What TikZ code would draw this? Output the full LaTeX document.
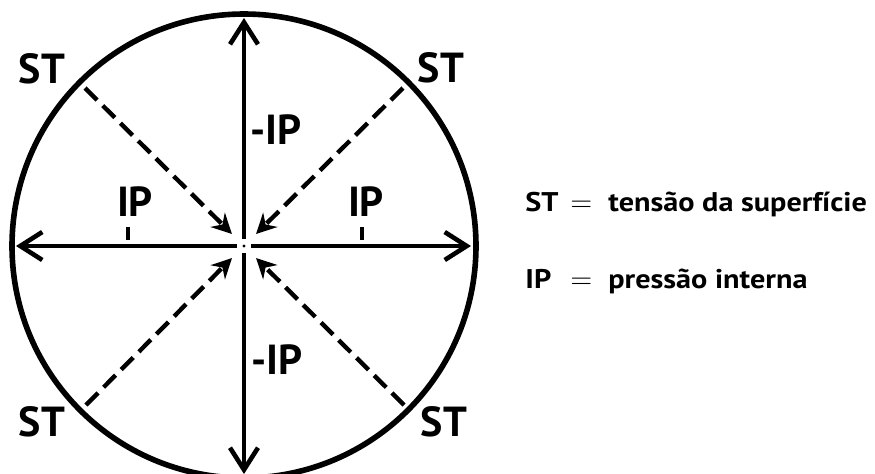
\documentclass[tikz,border=0pt]{standalone}
\usepackage{fontspec}
\setmainfont{PT Sans}
\newfontfamily\legfont[FakeStretch=1.12]{PT Sans}
\usepackage{tikz}
\usetikzlibrary{arrows.meta}

\begin{document}
\begin{tikzpicture}[
  x=0.5pt, y=-0.5pt,
  lbl/.style={font=\fontsize{21}{21}\selectfont\bfseries, inner sep=0pt},
  leg/.style={font=\legfont\fontsize{13.5}{13.5}\selectfont\bfseries, inner sep=0pt, anchor=west},
  arr/.style={line width=2.3pt, -{Straight Barb[length=11pt, width=14pt, line width=2.3pt]}},
  st/.style={line width=2.2pt, dash pattern=on 8.5pt off 4pt, -{Stealth[length=10pt, width=10pt]}}]
  \useasboundingbox (0,0) rectangle (875,473);
  \coordinate (c) at (244,246);
  % outer circle
  \draw[line width=2.8pt] (c) circle[radius=232];
  % internal pressure
  \coordinate (l0) at (237,246); \coordinate (l1) at (16,246);
  \coordinate (r0) at (251,246); \coordinate (r1) at (471,246);
  \coordinate (u0) at (244,239); \coordinate (u1) at (244,18);
  \coordinate (d0) at (244,253); \coordinate (d1) at (244,474);
  \draw[arr] (l0) -- (l1);
  \draw[arr] (r0) -- (r1);
  \draw[arr] (u0) -- (u1);
  \draw[arr] (d0) -- (d1);
  \fill (c) circle[radius=1.6];
  % surface tension
  \coordinate (a1) at (85,88);   \coordinate (a0) at (232,234);
  \coordinate (b1) at (403,88);  \coordinate (b0) at (256,234);
  \coordinate (e1) at (86,405);  \coordinate (e0) at (232,258);
  \coordinate (f1) at (404,405); \coordinate (f0) at (256,258);
  \draw[st] (a1) -- (a0);
  \draw[st] (b1) -- (b0);
  \draw[st] (e1) -- (e0);
  \draw[st] (f1) -- (f0);
  % ticks
  \coordinate (tl) at (128,240); \coordinate (tr) at (362,240);
  \draw[line width=1.8pt] (tl) -- ++(0,-13);
  \draw[line width=1.8pt] (tr) -- ++(0,-13);
  % labels
  \node[lbl] (stA) at (42,69) {ST};
  \node[lbl] (stB) at (441,68) {ST};
  \node[lbl] (stC) at (42,422) {ST};
  \node[lbl] (stD) at (444,422) {ST};
  \node[lbl] (ipL) at (135,202) {IP};
  \node[lbl] (ipR) at (366,202) {IP};
  \node[lbl] (ipU) at (276,130) {-IP};
  \node[lbl] (ipD) at (277,360) {-IP};
  % legend
  \node[leg] (legST) at (525,204) {\makebox[22.5pt][l]{ST}$=$\hspace{8pt}tensão da superfície};
  \node[leg] (legIP) at (525,281) {\makebox[22.5pt][l]{IP}$=$\hspace{8pt}pressão interna};
\end{tikzpicture}
\end{document}
